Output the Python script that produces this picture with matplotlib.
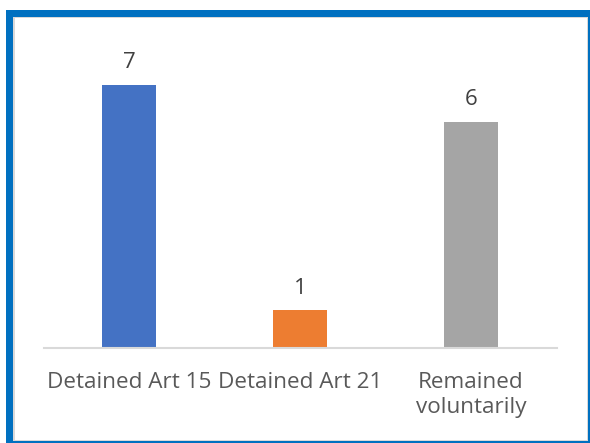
import matplotlib.pyplot as plt
from matplotlib.patches import Rectangle

categories = ["Detained Art 15", "Detained Art 21", "Remained\nvoluntarily"]
counts = [7, 1, 6]
bar_colors = ["#4472C4", "#ED7D31", "#A5A5A5"]

W, H = 590, 443
fig = plt.figure(figsize=(W / 100, H / 100), dpi=100)
plt.rcParams["font.family"] = ["Open Sans", "DejaVu Sans"]

# blue frame with a thin grey inner edge
blue = "#0070C0"
frame = [
    ((6, 0), W - 6, H - 10, blue),
    ((13, 2), W - 15, H - 19, "#d9d9d9"),
    ((15, 3), W - 18, H - 21, "white"),
]
for (x0, y0), w, h, c in frame:
    fig.patches.append(Rectangle((x0 / W, y0 / H), w / W, h / H, transform=fig.transFigure,
                                 facecolor=c, edgecolor="none", zorder=-10))

left, right = 43.5 / W, 556.5 / W
bottom, top = 1 - 348 / H, 1 - 47 / H
ax = fig.add_axes([left, bottom, right - left, top - bottom])
ax.set_zorder(5)
ax.patch.set_alpha(0)

x = range(len(categories))
bars = ax.bar(x, counts, width=0.316, color=bar_colors, zorder=2)
for rect, value in zip(bars, counts):
    ax.annotate(str(value), (rect.get_x() + rect.get_width() / 2, value),
                xytext=(0, 8.5), textcoords="offset points", ha="center", va="bottom",
                fontsize=16, color="#404040")

ax.set_xlim(-0.5, 2.5)
ax.set_ylim(0, 8)
ax.set_yticks([])
ax.set_xticks(list(x))
ax.set_xticklabels(categories, fontsize=16.2, color="#595959", linespacing=1.3)
ax.tick_params(axis="x", length=0, pad=17)
for side in ["top", "left", "right"]:
    ax.spines[side].set_visible(False)
ax.spines["bottom"].set_color("#d9d9d9")
ax.spines["bottom"].set_linewidth(1.5)

fig.savefig("out.png", dpi=100)
